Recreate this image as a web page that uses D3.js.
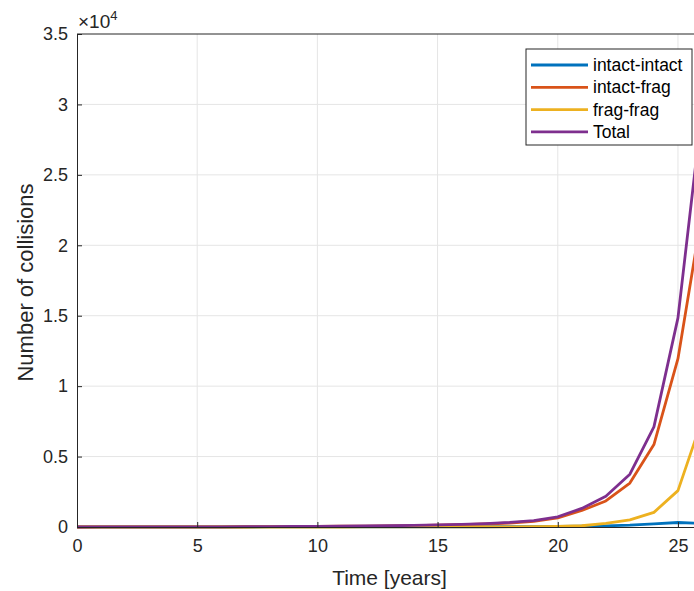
<!DOCTYPE html>
<html>
<head>
<meta charset="utf-8">
<script src="https://cdn.jsdelivr.net/npm/d3@7"></script>
<style>
  body { margin: 0; background: #fff; }
  svg { display: block; font-family: "Liberation Sans", Arial, sans-serif; }
</style>
</head>
<body>
<div id="chart"></div>
<script>
// Collisions per year
var years = d3.range(0, 27);
var intactIntact = [0, 0, 0, 0, 0, 1, 1, 1, 2, 2, 3, 4, 5, 6, 8, 10, 13, 17, 22, 30, 40, 60, 85, 130, 220, 320, 250];
var intactFrag = [0, 2, 4, 6, 8, 11, 15, 19, 25, 32, 41, 52, 65, 82, 104, 130, 165, 212, 285, 405, 640, 1170, 1850, 3120, 5850, 11950, 22300];
var fragFrag = [0, 0, 0, 0, 0, 0, 0, 0, 0, 0, 1, 1, 2, 2, 3, 5, 7, 11, 15, 25, 45, 90, 250, 500, 1040, 2580, 7600];
var total = [0, 2, 4, 6, 8, 12, 16, 20, 27, 34, 45, 57, 72, 90, 115, 145, 185, 240, 322, 460, 725, 1320, 2185, 3750, 7110, 14850, 29600];

var seriesNames = ['intact-intact', 'intact-frag', 'frag-frag', 'Total'];
var seriesColors = ['#0072BD', '#D95319', '#EDB120', '#7E2F8E'];
var xTicks = [0, 5, 10, 15, 20, 25];
var yTicks = [0, 5000, 10000, 15000, 20000, 25000, 30000, 35000];

var width = 694,
    height = 591,
    margin = { left: 77, top: 34, right: -8, bottom: 64 };

var svg = d3.select('#chart').append('svg')
    .attr('width', width)
    .attr('height', height);

var x = d3.scaleLinear().domain([0, 26]).range([margin.left, width - margin.right]);
var y = d3.scaleLinear().domain([0, 35000]).range([height - margin.bottom, margin.top]);

var axisColor = '#262626';

// grid
var grid = svg.append('g').attr('class', 'grid');
grid.selectAll('.gx').data(xTicks.slice(1)).enter()
    .append('line')
    .attr('x1', function (d) { return x(d); })
    .attr('x2', function (d) { return x(d); })
    .attr('y1', y(0))
    .attr('y2', y(35000))
    .attr('stroke', '#e5e5e5')
    .attr('stroke-width', 1);
grid.selectAll('.gy').data(yTicks.slice(1, -1)).enter()
    .append('line')
    .attr('x1', x(0))
    .attr('x2', x(26))
    .attr('y1', function (d) { return y(d); })
    .attr('y2', function (d) { return y(d); })
    .attr('stroke', '#e5e5e5')
    .attr('stroke-width', 1);

// lines
var line = d3.line()
    .x(function (d, i) { return x(years[i]); })
    .y(function (d) { return y(d); });

var allSeries = [intactIntact, intactFrag, fragFrag, total];
svg.append('g').selectAll('path')
    .data(allSeries).enter()
    .append('path')
    .attr('d', line)
    .attr('fill', 'none')
    .attr('stroke', function (d, i) { return seriesColors[i]; })
    .attr('stroke-width', 2.8)
    .attr('stroke-linejoin', 'round');

// axes
var xAxis = d3.axisBottom(x).tickValues(xTicks).tickSizeInner(-5).tickSizeOuter(0).tickPadding(12)
    .tickFormat(d3.format('d'));
var yAxis = d3.axisLeft(y).tickValues(yTicks).tickSizeInner(-5).tickSizeOuter(0).tickPadding(9)
    .tickFormat(function (d) { return d / 10000; });

var gx = svg.append('g')
    .attr('transform', 'translate(0,' + y(0) + ')')
    .call(xAxis);
var gy = svg.append('g')
    .attr('transform', 'translate(' + x(0) + ',0)')
    .call(yAxis);

[gx, gy].forEach(function (g) {
    g.select('.domain').attr('stroke', axisColor).attr('stroke-width', 1);
    g.selectAll('.tick line').attr('stroke', axisColor);
    g.selectAll('.tick text')
        .attr('fill', axisColor)
        .style('font-size', '18px')
        .style('font-family', '"Liberation Sans", Arial, sans-serif');
});

// top box line
svg.append('line')
    .attr('x1', x(0)).attr('x2', x(26))
    .attr('y1', y(35000)).attr('y2', y(35000))
    .attr('stroke', axisColor).attr('stroke-width', 1);

// exponent label
var expo = svg.append('text')
    .attr('x', x(0) + 1)
    .attr('y', 28)
    .attr('fill', axisColor)
    .style('font-size', '19px');
expo.append('tspan').text('\u00d710');
expo.append('tspan').attr('dy', -8).style('font-size', '13px').text('4');

// axis labels
svg.append('text')
    .attr('x', (x(0) + x(26)) / 2)
    .attr('y', 585)
    .attr('text-anchor', 'middle')
    .attr('fill', axisColor)
    .style('font-size', '21px')
    .text('Time [years]');

svg.append('text')
    .attr('transform', 'translate(33,' + ((y(0) + y(35000)) / 2 + 2) + ') rotate(-90)')
    .attr('text-anchor', 'middle')
    .attr('fill', axisColor)
    .style('font-size', '22px')
    .text('Number of collisions');

// legend
var legend = svg.append('g').attr('transform', 'translate(526,49)');
legend.append('rect')
    .attr('width', 166)
    .attr('height', 96)
    .attr('fill', '#fff')
    .attr('stroke', axisColor)
    .attr('stroke-width', 1);

var items = legend.selectAll('.item').data(seriesNames).enter()
    .append('g')
    .attr('transform', function (d, i) { return 'translate(0,' + (16 + i * 22.3) + ')'; });
items.append('line')
    .attr('x1', 5).attr('x2', 62)
    .attr('stroke', function (d, i) { return seriesColors[i]; })
    .attr('stroke-width', 2.8);
items.append('text')
    .attr('x', 67)
    .attr('dy', '0.35em')
    .attr('fill', '#000')
    .style('font-size', '17.5px')
    .text(function (d) { return d; });
</script>
</body>
</html>
